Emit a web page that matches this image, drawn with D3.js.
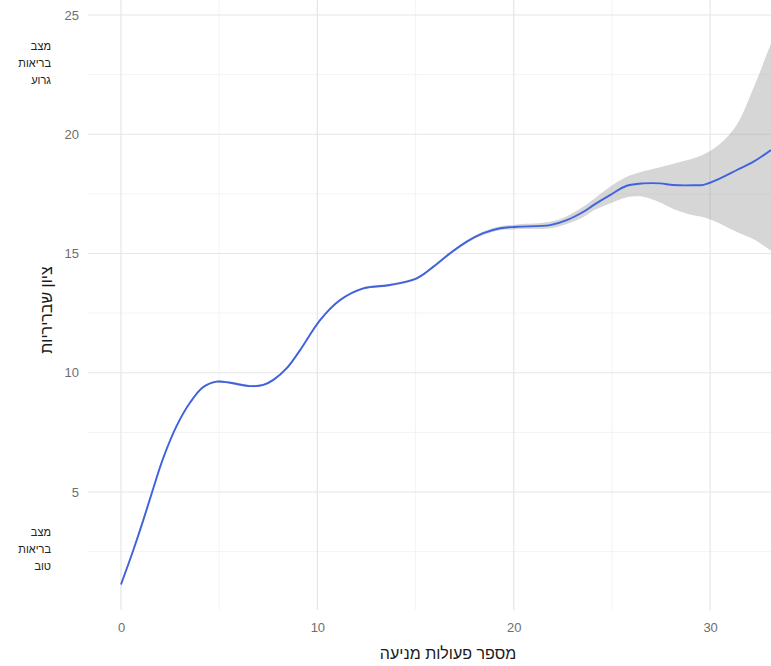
<!DOCTYPE html>
<html><head><meta charset="utf-8">
<script src="https://cdn.jsdelivr.net/npm/d3@7"></script>
<style>body{margin:0;background:#fff}svg{display:block}</style>
</head><body><svg id="c" width="771" height="666"></svg>
<script>
const xVals = [0, 0.63, 1.14, 1.65, 2.15, 2.84, 3.52, 4.19, 4.87, 5.55, 6.57, 7.25, 7.76, 8.44, 9.12, 10.14, 11.16, 12.34, 13.7, 15.06, 15.91, 16.76, 17.61, 18.45, 19.31, 20.16, 21.85, 22.7, 23.55, 24.1, 24.9, 25.76, 26.6, 27.45, 28.13, 29.15, 29.66, 30.51, 31.36, 32.21, 33.1];
const fitVals = [1.12, 2.57, 3.83, 5.17, 6.42, 7.78, 8.75, 9.4, 9.63, 9.58, 9.44, 9.49, 9.7, 10.19, 10.95, 12.21, 13.05, 13.54, 13.68, 13.96, 14.45, 15.01, 15.5, 15.85, 16.06, 16.12, 16.19, 16.4, 16.75, 17.05, 17.45, 17.84, 17.94, 17.94, 17.87, 17.86, 17.88, 18.15, 18.5, 18.85, 19.34];
const upperVals = [1.22, 2.66, 3.91, 5.24, 6.48, 7.84, 8.8, 9.45, 9.68, 9.63, 9.49, 9.54, 9.75, 10.24, 11.0, 12.26, 13.1, 13.59, 13.73, 14.01, 14.5, 15.07, 15.56, 15.92, 16.14, 16.22, 16.33, 16.56, 16.97, 17.3, 17.8, 18.22, 18.45, 18.62, 18.76, 18.99, 19.15, 19.6, 20.4, 21.95, 23.8];
const lowerVals = [1.02, 2.48, 3.75, 5.1, 6.36, 7.72, 8.7, 9.35, 9.58, 9.53, 9.39, 9.44, 9.65, 10.14, 10.9, 12.16, 13.0, 13.49, 13.63, 13.91, 14.4, 14.95, 15.44, 15.78, 15.98, 16.02, 16.06, 16.24, 16.53, 16.82, 17.1, 17.36, 17.38, 17.14, 16.87, 16.6, 16.52, 16.25, 15.9, 15.6, 15.12];
const xTicks = [0, 10, 20, 30];
const xMinor = [5, 15, 25];
const yTicks = [5, 10, 15, 20, 25];
const yMinor = [2.5, 7.5, 12.5, 17.5, 22.5];
const xTitle = "מספר פעולות מניעה";
const yTitle = "ציון שבריריות";
const topNote = ["מצב", "בריאות", "גרוע"];
const bottomNote = ["מצב", "בריאות", "טוב"];
const topNoteValue = 23.0;
const bottomNoteValue = 2.6;

const svg = d3.select("#c");
const panel = {left: 88, right: 771, top: 0, bottom: 610};
const x = d3.scaleLinear().domain([-1.68, 33.1]).range([panel.left, panel.right]);
const y = d3.scaleLinear().domain([5, 25]).range([492, 15]);
const font = "'Liberation Sans', Arial, sans-serif";

const grid = svg.append("g");
grid.selectAll(".ymn").data(yMinor).join("line")
  .attr("x1", panel.left).attr("x2", panel.right)
  .attr("y1", d => y(d)).attr("y2", d => y(d))
  .attr("stroke", "#f0f0f0").attr("stroke-width", 0.8);
grid.selectAll(".xmn").data(xMinor).join("line")
  .attr("y1", panel.top).attr("y2", panel.bottom)
  .attr("x1", d => x(d)).attr("x2", d => x(d))
  .attr("stroke", "#f0f0f0").attr("stroke-width", 0.8);
grid.selectAll(".ymj").data(yTicks).join("line")
  .attr("x1", panel.left).attr("x2", panel.right)
  .attr("y1", d => y(d)).attr("y2", d => y(d))
  .attr("stroke", "#e6e6e6").attr("stroke-width", 1.2);
grid.selectAll(".xmj").data(xTicks).join("line")
  .attr("y1", panel.top).attr("y2", panel.bottom)
  .attr("x1", d => x(d)).attr("x2", d => x(d))
  .attr("stroke", "#e6e6e6").attr("stroke-width", 1.2);

const pts = xVals.map((xv, i) => ({x: xv, f: fitVals[i], u: upperVals[i], l: lowerVals[i]}));
const area = d3.area().x(d => x(d.x)).y0(d => y(d.l)).y1(d => y(d.u)).curve(d3.curveCatmullRom.alpha(0.5));
const line = d3.line().x(d => x(d.x)).y(d => y(d.f)).curve(d3.curveCatmullRom.alpha(0.5));

svg.append("path").datum(pts).attr("d", area).attr("fill", "#999999").attr("fill-opacity", 0.4);
svg.append("path").datum(pts).attr("d", line).attr("fill", "none")
  .attr("stroke", "#3f63e0").attr("stroke-width", 1.9);

const xAxis = svg.append("g").attr("transform", `translate(0,${panel.bottom})`)
  .call(d3.axisBottom(x).tickValues(xTicks).tickSize(0).tickPadding(13));
xAxis.select(".domain").remove();
xAxis.selectAll("text").attr("font-family", font).attr("font-size", 13).attr("fill", "#6e6e6e");

const yAxis = svg.append("g").attr("transform", `translate(${panel.left},0)`)
  .call(d3.axisLeft(y).tickValues(yTicks).tickSize(0).tickPadding(9));
yAxis.select(".domain").remove();
yAxis.selectAll("text").attr("font-family", font).attr("font-size", 13).attr("fill", "#6e6e6e");

svg.append("text").attr("x", 448).attr("y", 659).attr("text-anchor", "middle")
  .attr("font-family", font).attr("font-size", 16).attr("fill", "#1a1a1a").text(xTitle);
svg.append("text").attr("transform", `translate(52,310) rotate(-90)`).attr("text-anchor", "middle")
  .attr("font-family", font).attr("font-size", 16).attr("fill", "#1a1a1a").text(yTitle);

function note(lines, v) {
  const g = svg.append("g");
  g.selectAll("text").data(lines).join("text")
    .attr("x", 51).attr("y", (d, i) => y(v) + (i - 1) * 17 + 4)
    .attr("text-anchor", "end").attr("font-family", font).attr("font-size", 11)
    .attr("fill", "#222").text(d => d);
}
note(topNote, topNoteValue);
note(bottomNote, bottomNoteValue);
</script></body></html>
